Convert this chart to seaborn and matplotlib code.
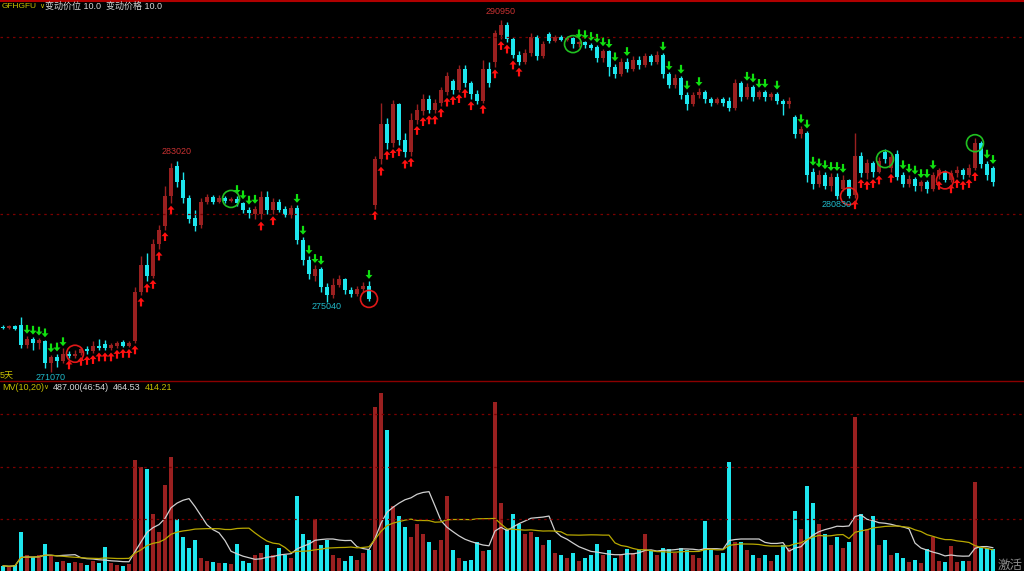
import numpy as np
import pandas as pd
import matplotlib
matplotlib.use("Agg")
import matplotlib.pyplot as plt
from matplotlib.path import Path
from matplotlib.lines import Line2D
import seaborn as sns

# ---- data (prices in thousands) ----
open_k = [273.62, 273.55, 273.65, 273.70, 272.60, 272.95, 272.70, 272.80, 271.60, 271.90,
          271.70, 272.10, 271.95, 272.15, 272.35, 272.25, 272.55, 272.65, 272.40, 272.55,
          272.75, 272.55, 272.80, 275.60, 277.10, 276.50, 278.30, 279.30, 281.00, 282.70,
          281.90, 280.90, 279.80, 279.40, 280.70, 280.95, 280.70, 280.90, 280.75, 280.85,
          280.60, 280.25, 280.00, 280.00, 280.95, 280.20, 280.70, 280.30, 279.95, 280.35,
          278.55, 277.40, 276.50, 276.90, 275.90, 275.40, 276.00, 276.30, 275.70, 275.45,
          275.75, 275.95, 280.50, 283.10, 285.10, 284.00, 286.20, 284.20, 283.50, 285.30,
          285.80, 286.50, 285.90, 286.30, 286.90, 287.50, 287.00, 288.20, 287.40, 286.80,
          286.40, 288.20, 288.60, 290.10, 290.70, 289.90, 289.00, 288.60, 289.10, 290.00,
          288.90, 290.15, 289.80, 290.00, 289.85, 289.95, 289.60, 289.70, 289.55, 289.45,
          288.80, 289.20, 288.30, 287.90, 288.60, 288.20, 288.70, 288.40, 288.90, 288.60,
          289.00, 287.90, 287.30, 287.70, 286.70, 286.20, 286.70, 286.90, 286.50, 286.30,
          286.50, 286.40, 286.00, 287.40, 286.60, 287.20, 286.60, 286.90, 286.60, 286.80,
          286.40, 286.20, 285.50, 284.50, 284.60, 282.40, 281.70, 282.20, 281.60, 282.10,
          281.40, 281.90, 281.10, 283.30, 282.30, 282.90, 282.40, 283.50, 282.60, 283.40,
          282.20, 281.70, 282.00, 281.60, 281.80, 281.40, 282.20, 282.40, 281.90, 282.30,
          282.50, 282.20, 282.60, 284.00, 282.80, 282.60]
close_k = [273.55, 273.65, 273.50, 272.60, 272.95, 272.70, 272.85, 271.60, 271.90, 271.70,
           272.10, 272.00, 272.10, 272.35, 272.25, 272.55, 272.40, 272.40, 272.60, 272.70,
           272.55, 272.70, 275.60, 277.10, 276.50, 278.30, 279.10, 281.00, 282.60, 281.80,
           280.90, 279.70, 279.30, 280.70, 280.95, 280.70, 280.90, 280.75, 280.85, 280.60,
           280.25, 280.05, 280.30, 280.95, 280.20, 280.70, 280.25, 279.95, 280.35, 278.55,
           277.40, 276.60, 276.90, 275.90, 275.40, 276.00, 276.30, 275.70, 275.45, 275.75,
           275.95, 275.20, 283.10, 285.10, 284.00, 286.20, 284.20, 283.50, 285.30, 285.90,
           286.50, 285.90, 286.30, 287.00, 287.80, 287.00, 288.20, 287.40, 286.80, 286.40,
           288.20, 287.40, 290.20, 290.70, 289.90, 289.00, 288.60, 289.10, 290.00, 288.90,
           289.60, 289.80, 290.00, 289.85, 289.95, 289.60, 289.70, 289.55, 289.40, 288.80,
           289.20, 288.30, 287.90, 288.60, 288.20, 288.70, 288.40, 288.90, 288.60, 289.00,
           287.90, 287.30, 287.70, 286.70, 286.20, 286.70, 286.90, 286.50, 286.30, 286.50,
           286.30, 286.00, 287.40, 286.60, 287.20, 286.60, 286.90, 286.60, 286.80, 286.40,
           286.20, 286.40, 284.50, 284.80, 282.20, 281.70, 282.20, 281.60, 282.10, 281.00,
           281.90, 281.00, 283.30, 282.30, 282.90, 282.40, 283.00, 283.10, 283.20, 282.10,
           281.70, 282.00, 281.60, 281.80, 281.40, 282.20, 282.50, 281.90, 282.30, 282.50,
           282.20, 282.60, 284.00, 282.80, 282.20, 281.80]
high_k = [273.70, 273.72, 273.70, 274.20, 273.10, 273.05, 273.00, 272.90, 272.05, 272.10,
          272.40, 272.25, 272.30, 272.50, 272.55, 272.80, 272.95, 272.85, 272.70, 272.80,
          272.85, 272.80, 275.90, 277.60, 277.80, 278.60, 279.40, 281.60, 282.90, 283.02,
          282.40, 281.10, 280.20, 280.90, 281.15, 281.10, 281.05, 281.00, 280.95, 281.00,
          280.70, 280.40, 280.45, 281.30, 281.30, 280.90, 280.85, 280.45, 280.50, 280.50,
          278.70, 277.60, 277.10, 277.00, 276.10, 276.40, 276.55, 276.40, 275.85, 275.95,
          276.15, 276.20, 283.30, 286.30, 285.40, 286.44, 286.30, 284.60, 285.70, 286.20,
          286.80, 286.70, 286.50, 287.20, 288.00, 287.60, 288.40, 288.40, 287.50, 287.00,
          288.70, 288.60, 290.40, 290.95, 290.85, 290.00, 289.20, 289.30, 290.20, 290.10,
          289.80, 290.30, 290.10, 290.10, 290.05, 290.00, 289.80, 289.75, 289.65, 289.55,
          289.35, 289.25, 288.50, 288.80, 288.80, 288.90, 288.90, 289.10, 289.05, 289.20,
          289.10, 288.00, 287.90, 287.80, 286.90, 286.90, 287.10, 287.00, 286.60, 286.60,
          286.60, 286.60, 287.60, 287.50, 287.40, 287.30, 287.00, 287.00, 286.90, 286.90,
          286.50, 286.60, 285.60, 285.00, 284.70, 282.60, 282.50, 282.40, 282.30, 282.30,
          282.20, 282.00, 284.60, 283.50, 283.10, 283.00, 283.20, 283.70, 283.40, 283.60,
          282.40, 282.20, 282.10, 281.90, 281.90, 282.40, 282.60, 282.50, 282.50, 282.70,
          282.60, 282.80, 284.30, 284.10, 283.00, 282.70]
low_k = [273.50, 273.50, 273.45, 272.40, 272.45, 272.30, 272.35, 271.30, 271.07, 271.35,
         271.55, 271.85, 271.85, 272.05, 272.10, 272.15, 272.30, 272.30, 272.30, 272.45,
         272.50, 272.50, 272.70, 275.40, 276.20, 276.40, 278.00, 279.10, 280.60, 281.50,
         280.60, 279.50, 279.05, 279.20, 280.55, 280.55, 280.60, 280.60, 280.65, 280.45,
         280.05, 279.75, 279.70, 279.70, 280.00, 280.00, 280.10, 279.85, 279.80, 278.30,
         277.10, 276.30, 276.20, 275.60, 275.04, 275.25, 275.85, 275.50, 275.30, 275.35,
         275.60, 275.10, 280.30, 282.80, 283.70, 283.80, 283.90, 283.20, 283.30, 285.10,
         285.60, 285.70, 285.70, 286.10, 286.70, 286.80, 286.90, 287.20, 286.50, 286.20,
         286.30, 287.20, 288.30, 289.90, 289.70, 288.80, 288.40, 288.50, 288.90, 288.70,
         288.80, 289.65, 289.70, 289.75, 289.75, 289.40, 289.45, 289.40, 289.25, 288.60,
         288.60, 287.80, 287.70, 287.80, 288.00, 288.10, 288.20, 288.30, 288.40, 288.50,
         287.70, 287.10, 287.10, 286.50, 285.90, 286.10, 286.55, 286.30, 286.10, 286.20,
         286.10, 285.80, 285.90, 286.40, 286.50, 286.40, 286.50, 286.40, 286.45, 286.20,
         285.60, 286.00, 284.30, 284.30, 281.80, 281.40, 281.50, 281.40, 281.30, 280.83,
         281.30, 280.90, 280.90, 282.10, 282.00, 282.10, 282.30, 282.90, 282.40, 281.90,
         281.50, 281.50, 281.30, 281.30, 281.20, 281.30, 282.00, 281.80, 281.80, 282.10,
         282.00, 282.10, 282.50, 282.60, 281.90, 281.60]
volume = [100, 80, 120, 740, 300, 260, 310, 520, 290, 180,
          200, 150, 180, 150, 120, 200, 160, 460, 150, 120,
          100, 130, 2130, 2000, 1950, 1100, 750, 1650, 2190, 1000,
          650, 450, 600, 250, 200, 180, 150, 160, 140, 510,
          200, 150, 300, 350, 500, 300, 450, 300, 250, 1430,
          700, 600, 1000, 500, 600, 300, 250, 200, 280, 220,
          350, 400, 3140, 3410, 2700, 1250, 1050, 850, 650, 900,
          700, 550, 400, 600, 1430, 400, 250, 200, 220, 550,
          380, 400, 3240, 1300, 800, 1090, 900, 700, 750, 650,
          500, 600, 350, 300, 250, 350, 200, 250, 300, 520,
          300, 400, 250, 300, 420, 350, 400, 700, 400, 300,
          450, 420, 350, 450, 400, 300, 250, 950, 400, 300,
          350, 2080, 550, 550, 400, 300, 250, 300, 200, 300,
          500, 450, 1150, 800, 1630, 1300, 900, 700, 500, 650,
          450, 550, 2950, 1100, 800, 1050, 500, 600, 300, 350,
          250, 180, 220, 150, 420, 650, 200, 170, 480, 180,
          190, 200, 1710, 460, 440, 430]

buy_idx = [11, 13, 14, 15, 16, 17, 18, 19, 20, 21, 22, 23, 24, 25, 26, 27, 28, 43, 45,
           62, 63, 64, 65, 66, 67, 68, 69, 70, 71, 72, 73, 74, 75, 76, 77, 78, 80,
           82, 83, 84, 85, 86, 142, 143, 144, 145, 146, 148, 156, 158, 159, 160, 161, 162]
sell_idx = [4, 5, 6, 7, 8, 9, 10, 39, 40, 41, 42, 49, 50, 51, 52, 53, 61,
            96, 97, 98, 99, 100, 101, 102, 104, 110, 111, 113, 114, 116,
            124, 125, 126, 127, 129, 133, 134, 135, 136, 137, 138, 139, 140,
            150, 151, 152, 153, 154, 155, 164, 165]
ring_red_idx = [12, 61, 141, 157]
ring_green_idx = [38, 95, 147, 162]
high_label_idx = [29, 83]
low_label_idx = [8, 54, 139]

# ---- style ----
RED = "#9a2020"
CYAN = "#1ee6ee"
ARROW_RED = "#ff1010"
ARROW_GREEN = "#10e010"
YELLOW = "#c8c000"
GRID = "#7a0000"

sns.set_theme(style="dark", rc={"axes.facecolor": "black", "figure.facecolor": "black"})
plt.rcParams["font.family"] = ["Liberation Sans", "Noto Sans CJK SC", "DejaVu Sans"]

o = np.array(open_k) * 1000
c = np.array(close_k) * 1000
h = np.array(high_k) * 1000
l = np.array(low_k) * 1000
vol = pd.Series(volume, dtype=float)
idx = np.arange(len(c))
colors = np.where(c >= o, RED, CYAN)

W, H = 1024, 571
fig = plt.figure(figsize=(W / 100, H / 100), dpi=100)
axv = fig.add_axes([0, 0, 1, 190 / H])
ax = fig.add_axes([0, 190 / H, 1, 379 / H], sharex=axv)
ax.patch.set_alpha(0)

# candles
ax.vlines(idx, l, h, colors=colors, linewidth=1)
body_lo = np.minimum(o, c)
body_h = np.maximum(np.abs(c - o), 50)
ax.bar(idx, body_h, bottom=body_lo, width=0.62, color=colors, linewidth=0)

up_arrow = Path([(0, 1), (-0.8, 0.1), (-0.25, 0.1), (-0.25, -1), (0.25, -1), (0.25, 0.1), (0.8, 0.1), (0, 1)],
                [Path.MOVETO] + [Path.LINETO] * 6 + [Path.CLOSEPOLY])
down_arrow = Path([(x, -y) for x, y in up_arrow.vertices], up_arrow.codes)

sns.scatterplot(x=idx[buy_idx], y=l[buy_idx] - 380, marker=up_arrow, s=40,
                color=ARROW_RED, edgecolor="none", ax=ax, legend=False)
sns.scatterplot(x=idx[sell_idx], y=h[sell_idx] + 380, marker=down_arrow, s=40,
                color=ARROW_GREEN, edgecolor="none", ax=ax, legend=False)
ax.scatter(idx[ring_red_idx], c[ring_red_idx], s=150, facecolors="none", edgecolors="#e01818", linewidths=1.2, zorder=5)
ax.scatter(idx[ring_green_idx], c[ring_green_idx], s=150, facecolors="none", edgecolors="#20c020", linewidths=1.2, zorder=5)

for i in high_label_idx:
    ax.annotate(f"{h[i]:.0f}", (i, h[i]), xytext=(0, 3), textcoords="offset points",
                ha="center", va="bottom", color="#c83232", fontsize=6.5)
for i in low_label_idx:
    ax.annotate(f"{l[i]:.0f}", (i, l[i]), xytext=(0, -0.5), textcoords="offset points",
                ha="center", va="top", color="#20b8c8", fontsize=6.5,
                annotation_clip=False, zorder=6)

for lvl in (280000, 290000):
    ax.axhline(lvl, color=GRID, lw=0.9, ls=(0, (2, 3)))

xmin, xmax = -0.5, (W - 3) / 6
ax.set_xlim(xmin, xmax)
ax.set_ylim(270560, 291980)

# volume
axv.bar(idx, vol, width=0.62, color=colors, linewidth=0)
ma = pd.DataFrame({"i": idx,
                   "ma10": vol.rolling(10, min_periods=1).mean(),
                   "ma20": vol.rolling(20, min_periods=1).mean()})
sns.lineplot(data=ma, x="i", y="ma10", ax=axv, color="#d0d0d0", lw=0.9, legend=False)
sns.lineplot(data=ma, x="i", y="ma20", ax=axv, color="#b8a800", lw=0.9, legend=False)
for lvl in (1000, 2000, 3000):
    axv.axhline(lvl, color=GRID, lw=0.9, ls=(0, (2, 3)))
axv.set_ylim(0, 3640)

for a in (ax, axv):
    a.set_xlabel("")
    a.set_ylabel("")
    a.set_xticks([])
    a.set_yticks([])
    a.grid(False)
    for s in a.spines.values():
        s.set_visible(False)

# frame lines
fig.add_artist(Line2D([0, 1], [1 - 1 / H, 1 - 1 / H], color="#b00000", lw=1.5))
fig.add_artist(Line2D([0, 1], [190 / H, 190 / H], color="#8b0000", lw=1.0))

def fx(px):
    return px / W

def fy(py):
    return 1 - py / H

fig.text(fx(2), fy(6), "GFHGFU", color=YELLOW, fontsize=6.0, va="center")
fig.text(fx(39), fy(6), "∨", color=YELLOW, fontsize=5.0, va="center", family="DejaVu Sans")
fig.text(fx(45), fy(6), "变动价位 10.0  变动价格 10.0", color="#d8d8d8", fontsize=6.5, va="center")
fig.text(fx(0), fy(376), "5天", color=YELLOW, fontsize=6.5, va="center")
fig.text(fx(2), fy(387), "MV(10,20)", color=YELLOW, fontsize=6.5, va="center")
fig.text(fx(43), fy(387), "∨", color=YELLOW, fontsize=5.0, va="center", family="DejaVu Sans")
fig.text(fx(53), fy(387), "487.00(46:54)", color="#d8d8d8", fontsize=6.5, va="center")
fig.text(fx(113), fy(387), "464.53", color="#d8d8d8", fontsize=6.5, va="center")
fig.text(fx(145), fy(387), "414.21", color=YELLOW, fontsize=6.5, va="center")
fig.text(fx(998), fy(566), "激活", color="#8c8c8c", fontsize=9, va="center")

fig.savefig("out.png", dpi=100, facecolor="black")
